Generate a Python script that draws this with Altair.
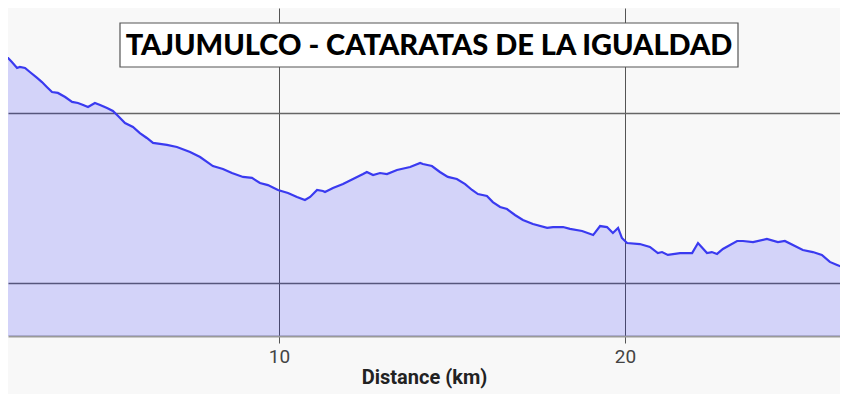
import altair as alt
import pandas as pd

title_text = "TAJUMULCO - CATARATAS DE LA IGUALDAD"

distance_km = [
    1.94, 2.02, 2.17, 2.28, 2.43, 2.51, 2.66, 2.80, 3.01, 3.15, 3.29, 3.44, 3.61, 3.82,
    4.02, 4.19, 4.34, 4.48, 4.68, 4.83, 5.03, 5.20, 5.35, 5.55, 5.78, 5.98, 6.18, 6.36,
    6.56, 6.76, 7.05, 7.43, 7.72, 8.09, 8.38, 8.64, 8.96, 9.22, 9.45, 9.68, 9.97, 10.26,
    10.52, 10.75, 10.90, 11.10, 11.27, 11.33, 11.56, 11.85, 12.14, 12.43, 12.54, 12.72,
    12.92, 13.12, 13.41, 13.79, 14.08, 14.16, 14.42, 14.65, 14.88, 15.14, 15.38, 15.58,
    15.75, 16.01, 16.18, 16.39, 16.59, 16.82, 17.05, 17.34, 17.75, 17.92, 18.21, 18.41,
    18.76, 19.08, 19.28, 19.48, 19.65, 19.80, 19.91, 20.06, 20.43, 20.72, 20.95, 21.07,
    21.24, 21.59, 21.94, 22.11, 22.37, 22.51, 22.66, 22.83, 23.24, 23.41, 23.70, 24.10,
    24.42, 24.62, 25.14, 25.43, 25.69, 25.92, 26.13, 26.42,
]
elevation_m = [
    2341, 2329, 2323, 2300, 2265, 2271, 2265, 2241, 2206, 2182, 2153, 2123, 2118, 2094,
    2065, 2059, 2047, 2035, 2059, 2047, 2029, 2012, 1982, 1941, 1918, 1882, 1853, 1824,
    1818, 1812, 1800, 1771, 1741, 1688, 1671, 1647, 1624, 1618, 1588, 1576, 1547, 1529,
    1506, 1488, 1506, 1547, 1541, 1535, 1559, 1582, 1612, 1641, 1653, 1635,
    1647, 1641, 1665, 1682, 1706, 1700, 1688, 1653, 1624, 1612, 1582, 1547,
    1523, 1512, 1476, 1447, 1435, 1400, 1371, 1347, 1324, 1329, 1329, 1318,
    1306, 1282, 1335, 1329, 1294, 1324, 1265, 1235, 1229, 1212, 1176, 1182,
    1165, 1176, 1176, 1235, 1176, 1182, 1171, 1200, 1247, 1247, 1241, 1259,
    1241, 1247, 1194, 1182, 1165, 1124, 1106, 1082,
]
x_ticks = [10, 20]
y_grid = [1000, 2000]

df = pd.DataFrame({"km": distance_km, "elev": elevation_m})

x_scale = alt.Scale(domain=[2.168, 26.214], nice=False, zero=False)
y_scale = alt.Scale(domain=[688.2, 2617.6], nice=False, zero=False)

base = alt.Chart(df)

area = base.mark_area(
    clip=True,
    color="#0000ff",
    fillOpacity=0.15,
    line={"color": "#3a3af0", "strokeWidth": 2.2},
    interpolate="linear",
).encode(
    x=alt.X(
        "km:Q",
        scale=x_scale,
        axis=alt.Axis(
            values=x_ticks,
            title="Distance (km)",
            grid=True,
            gridColor="#555555",
            gridWidth=1,
            domainColor="#999999",
            domainWidth=2,
            tickColor="#555555",
            tickSize=7,
            labelFont="Roboto",
            labelFontSize=19,
            labelColor="#444444",
            labelPadding=4,
            titleFont="Roboto",
            titleFontSize=20,
            titleFontWeight="bold",
            titleColor="#222222",
            titlePadding=1,
        ),
    ),
    y=alt.Y(
        "elev:Q",
        scale=y_scale,
        axis=alt.Axis(
            values=y_grid,
            title=None,
            labels=False,
            ticks=False,
            domain=False,
            grid=True,
            gridColor="#666666",
            gridWidth=1.3,
        ),
    ),
)

box_df = pd.DataFrame({"t": [title_text]})
box = alt.Chart(box_df).mark_rect(
    fill="white", stroke="#555555", strokeWidth=1.2
).encode(
    x=alt.value(112), x2=alt.value(730), y=alt.value(15), y2=alt.value(59)
)
txt = alt.Chart(box_df).mark_text(
    font="Lato", fontSize=29, fontWeight=900, color="black",
    align="center", baseline="middle",
).encode(
    x=alt.value(421), y=alt.value(38), text="t:N"
)

chart = (
    alt.layer(area, box, txt)
    .properties(
        width=832, height=328, background="#f8f8f8",
        padding={"left": 0, "top": 0, "right": 0, "bottom": 8},
    )
    .configure_view(strokeWidth=0)
)

chart.save("out.html", embed_options={"renderer": "svg", "actions": False})
